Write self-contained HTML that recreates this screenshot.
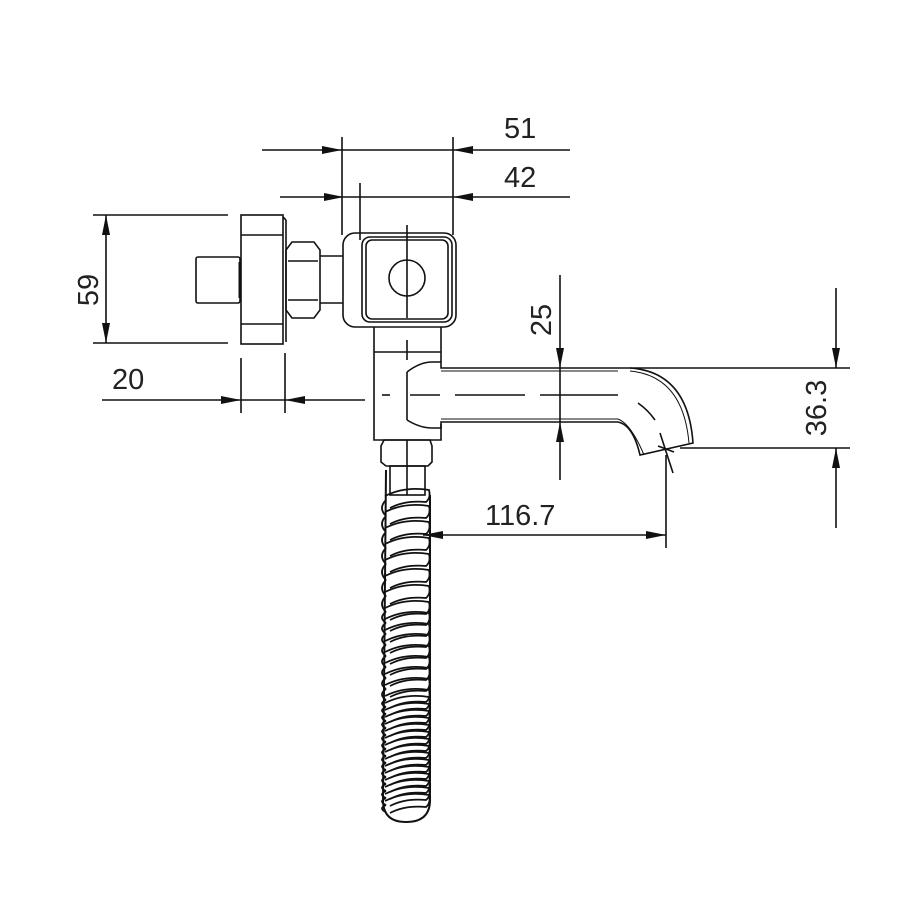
<!DOCTYPE html>
<html><head><meta charset="utf-8"><style>
html,body{margin:0;padding:0;background:#fff}
svg{display:block}
text{font-family:"Liberation Sans",Arial,sans-serif;font-size:29px;fill:#222}
</style></head><body>
<svg id="s" width="900" height="900" viewBox="0 0 900 900" xmlns="http://www.w3.org/2000/svg">
<defs>
<marker id="a" viewBox="0 0 20 8" refX="20" refY="4" markerWidth="20" markerHeight="8" markerUnits="userSpaceOnUse" orient="auto-start-reverse"><path d="M0,0L20,4L0,8z" fill="#111"/></marker>
</defs>
<g stroke="#111" stroke-width="1.6" fill="none">
<!-- 51 -->
<line x1="262" y1="150" x2="342" y2="150" marker-end="url(#a)"/>
<line x1="570" y1="150" x2="453" y2="150" marker-end="url(#a)"/>
<line x1="342" y1="150" x2="453" y2="150"/>
<line x1="342" y1="137" x2="342" y2="235"/>
<line x1="453" y1="137" x2="453" y2="235"/>
<!-- 42 -->
<line x1="280" y1="197" x2="344" y2="197" marker-end="url(#a)"/>
<line x1="570" y1="197" x2="453" y2="197" marker-end="url(#a)"/>
<line x1="344" y1="197" x2="453" y2="197"/>
<line x1="360" y1="183" x2="360" y2="240"/>
<!-- 59 -->
<line x1="93" y1="215" x2="228" y2="215"/>
<line x1="93" y1="343" x2="228" y2="343"/>
<line x1="106" y1="280" x2="106" y2="215" marker-end="url(#a)"/>
<line x1="106" y1="280" x2="106" y2="343" marker-end="url(#a)"/>
<!-- 20 -->
<line x1="102" y1="400" x2="241" y2="400" marker-end="url(#a)"/>
<line x1="365" y1="400" x2="285" y2="400" marker-end="url(#a)"/>
<line x1="241" y1="400" x2="285" y2="400"/>
<line x1="241" y1="358" x2="241" y2="413"/>
<line x1="285" y1="353" x2="285" y2="413"/>
<!-- 25 -->
<line x1="560" y1="275" x2="560" y2="368" marker-end="url(#a)"/>
<line x1="560" y1="480" x2="560" y2="422" marker-end="url(#a)"/>
<line x1="560" y1="368" x2="560" y2="422"/>
<!-- 36.3 -->
<line x1="630" y1="368" x2="850" y2="368"/>
<line x1="680" y1="448" x2="850" y2="448"/>
<line x1="836" y1="288" x2="836" y2="368" marker-end="url(#a)"/>
<line x1="836" y1="528" x2="836" y2="448" marker-end="url(#a)"/>
<!-- 116.7 -->
<line x1="666" y1="455" x2="666" y2="548"/>
<line x1="545" y1="535" x2="666" y2="535" marker-end="url(#a)"/>
<line x1="545" y1="535" x2="423" y2="535" marker-end="url(#a)"/>

<!-- wall plate & stub -->
<rect x="196" y="257" width="44" height="46" rx="2"/>
<line x1="240" y1="262" x2="240" y2="298" stroke-width="3"/>
<rect x="241" y="215" width="42" height="129"/>
<line x1="283" y1="217" x2="286" y2="220"/><line x1="286" y1="220" x2="286" y2="342"/>
<line x1="241" y1="235" x2="283" y2="235"/>
<line x1="241" y1="324" x2="283" y2="324"/>
<!-- hex nut -->
<path d="M292,242 L314,242 L320,250 L320,310 L314,318 L292,318 L286,310 L286,250 Z"/>
<line x1="288" y1="261" x2="318" y2="261"/><line x1="288" y1="300" x2="318" y2="300"/>
<line x1="320" y1="256" x2="343" y2="256"/><line x1="320" y1="303" x2="343" y2="303"/>
<!-- body block -->
<rect x="343" y="233" width="113" height="94" rx="12"/>
<rect x="362" y="237" width="90" height="85" rx="8"/>
<rect x="366" y="240" width="82" height="79" rx="6"/>
<circle cx="407" cy="278" r="18"/>
<line x1="407" y1="225" x2="407" y2="318"/>
<!-- stem -->
<path d="M374,327 L374,440 L441,440 L441,424"/>
<path d="M441,362 L441,327"/>
<line x1="374" y1="352" x2="441" y2="352"/>
<line x1="407" y1="340" x2="407" y2="360"/>
<!-- spout -->
<path d="M407,372 L407,420"/>
<path d="M407,372 Q420,362 432,362 L441,362 L441,368 L618,368"/>
<path d="M407,420 Q420,428 432,428 L441,428 L441,422 L618,422"/>
<line x1="441" y1="371" x2="618" y2="371" stroke-width="1"/>
<line x1="441" y1="419" x2="618" y2="419" stroke-width="1"/>
<path d="M618,368 L630,368 Q688,372 693,443 L640,455 Q633,425 618,422"/>
<path d="M630,371 Q683,376 689,443" stroke-width="1"/>
<path d="M618,419 Q631,424 644,455" stroke-width="1"/>
<line x1="382" y1="395" x2="390" y2="395"/>
<line x1="410" y1="395" x2="440" y2="395"/>
<line x1="455" y1="395" x2="525" y2="395"/>
<line x1="540" y1="395" x2="618" y2="395"/>
<path d="M638,403 Q648,410 655,420" />
<line x1="660" y1="433" x2="673" y2="473"/>
<line x1="658" y1="446" x2="674" y2="452"/>
<!-- nut under stem -->
<path d="M384,440 L430,440 L432,446 L432,462 L428,466 L386,466 L381,462 L381,446 Z"/>
<line x1="407" y1="440" x2="407" y2="495"/>
<rect x="390" y="466" width="35" height="29"/>
<!-- hose outline -->
<path d="M386,470 L383,800 Q383,822 406,822 Q430,822 430,800 L430,495" stroke-width="2"/>
<g id="hose" stroke-width="1.8"></g>
</g>
<text x="504" y="138">51</text>
<text x="504" y="187">42</text>
<text x="112" y="389">20</text>
<text x="485" y="525">116.7</text>
<text transform="translate(98,290) rotate(-90)" text-anchor="middle">59</text>
<text transform="translate(551,320) rotate(-90)" text-anchor="middle">25</text>
<text transform="translate(826,408) rotate(-90)" text-anchor="middle">36.3</text>
</svg>
<script>
var g=document.getElementById('hose'),h='';
for(var y=500;y<812;){
  var step=y<600?16:(y<700?11:7);
  h+='<path d="M385,'+(y-4)+' Q405,'+(y-14)+' 429,'+(y-10)+' Q431,'+(y-2)+' 426,'+(y+2)+' Q405,'+(y)+' 390,'+(y+8)+'"/>';
  h+='<path d="M386,'+(y)+' Q378,'+(y+step/2)+' 386,'+(y+step)+'"/>';
  y+=step;
}
g.innerHTML=h;
</script>
</body></html>
